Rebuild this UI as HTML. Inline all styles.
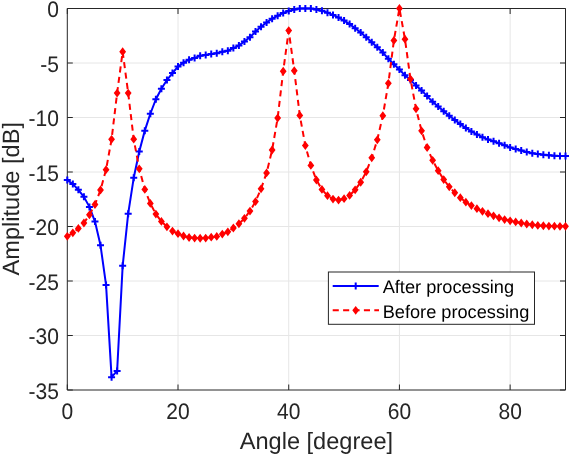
<!DOCTYPE html>
<html><head><meta charset="utf-8"><style>
html,body{margin:0;padding:0;background:#fff;width:570px;height:456px;overflow:hidden}
svg{display:block;font-family:"Liberation Sans",sans-serif;will-change:transform;text-rendering:geometricPrecision}
</style></head><body>
<svg width="570" height="456" viewBox="0 0 570 456">
<rect x="0" y="0" width="570" height="456" fill="#fff"/>
<path d="M178.01 8.50V390.00M288.72 8.50V390.00M399.43 8.50V390.00M510.14 8.50V390.00M67.30 63.00H565.50M67.30 117.50H565.50M67.30 172.00H565.50M67.30 226.50H565.50M67.30 281.00H565.50M67.30 335.50H565.50" stroke="#e6e6e6" stroke-width="1" fill="none"/>
<path d="M67.30 8.50H565.50V390.00H67.30Z" stroke="#262626" stroke-width="1" fill="none"/>
<path d="M67.30 390.00v-5.5M67.30 8.50v5.5M178.01 390.00v-5.5M178.01 8.50v5.5M288.72 390.00v-5.5M288.72 8.50v5.5M399.43 390.00v-5.5M399.43 8.50v5.5M510.14 390.00v-5.5M510.14 8.50v5.5M67.30 8.50h5.5M565.50 8.50h-5.5M67.30 63.00h5.5M565.50 63.00h-5.5M67.30 117.50h5.5M565.50 117.50h-5.5M67.30 172.00h5.5M565.50 172.00h-5.5M67.30 226.50h5.5M565.50 226.50h-5.5M67.30 281.00h5.5M565.50 281.00h-5.5M67.30 335.50h5.5M565.50 335.50h-5.5M67.30 390.00h5.5M565.50 390.00h-5.5" stroke="#262626" stroke-width="1" fill="none"/>
<text transform="translate(67.30 419.20) scale(1 1.07)" font-family="Liberation Sans, sans-serif" font-size="21.0" fill="#262626" text-anchor="middle">0</text>
<text transform="translate(178.01 419.20) scale(1 1.07)" font-family="Liberation Sans, sans-serif" font-size="21.0" fill="#262626" text-anchor="middle">20</text>
<text transform="translate(288.72 419.20) scale(1 1.07)" font-family="Liberation Sans, sans-serif" font-size="21.0" fill="#262626" text-anchor="middle">40</text>
<text transform="translate(399.43 419.20) scale(1 1.07)" font-family="Liberation Sans, sans-serif" font-size="21.0" fill="#262626" text-anchor="middle">60</text>
<text transform="translate(510.14 419.20) scale(1 1.07)" font-family="Liberation Sans, sans-serif" font-size="21.0" fill="#262626" text-anchor="middle">80</text>
<text transform="translate(58.90 17.20) scale(1 1.07)" font-family="Liberation Sans, sans-serif" font-size="21.0" fill="#262626" text-anchor="end">0</text>
<text transform="translate(58.90 71.70) scale(1 1.07)" font-family="Liberation Sans, sans-serif" font-size="21.0" fill="#262626" text-anchor="end">-5</text>
<text transform="translate(58.90 126.20) scale(1 1.07)" font-family="Liberation Sans, sans-serif" font-size="21.0" fill="#262626" text-anchor="end">-10</text>
<text transform="translate(58.90 180.70) scale(1 1.07)" font-family="Liberation Sans, sans-serif" font-size="21.0" fill="#262626" text-anchor="end">-15</text>
<text transform="translate(58.90 235.20) scale(1 1.07)" font-family="Liberation Sans, sans-serif" font-size="21.0" fill="#262626" text-anchor="end">-20</text>
<text transform="translate(58.90 289.70) scale(1 1.07)" font-family="Liberation Sans, sans-serif" font-size="21.0" fill="#262626" text-anchor="end">-25</text>
<text transform="translate(58.90 344.20) scale(1 1.07)" font-family="Liberation Sans, sans-serif" font-size="21.0" fill="#262626" text-anchor="end">-30</text>
<text transform="translate(58.90 398.70) scale(1 1.07)" font-family="Liberation Sans, sans-serif" font-size="21.0" fill="#262626" text-anchor="end">-35</text>
<text x="316.40" y="448.8" font-family="Liberation Sans, sans-serif" font-size="23.6" fill="#262626" text-anchor="middle">Angle [degree]</text>
<text transform="translate(18.6 198.75) rotate(-90)" x="0" y="0" font-family="Liberation Sans, sans-serif" font-size="23.6" fill="#262626" text-anchor="middle">Amplitude [dB]</text>
<polyline points="67.30,179.98 72.84,184.12 78.37,189.79 83.91,196.87 89.44,206.89 94.98,221.60 100.51,245.34 106.05,284.89 111.58,377.16 117.12,370.95 122.66,265.83 128.19,213.64 133.73,177.80 139.26,151.55 144.80,130.63 150.33,113.74 155.87,99.26 161.40,88.80 166.94,80.08 172.48,73.00 178.01,66.57 183.55,62.65 189.08,59.71 194.62,58.08 200.15,55.79 205.69,54.92 211.22,54.05 216.76,53.28 222.30,51.76 227.83,50.67 233.37,48.05 238.90,45.55 244.44,41.41 249.97,37.27 255.51,31.60 261.04,26.81 266.58,22.45 272.12,18.64 277.65,15.81 283.19,12.98 288.72,11.01 294.26,9.49 299.79,8.62 305.33,8.40 310.86,8.62 316.40,9.49 321.94,10.69 327.47,12.65 333.01,14.94 338.54,17.55 344.08,20.60 349.61,24.09 355.15,28.28 360.68,32.53 366.22,37.31 371.76,42.21 377.29,47.35 382.83,52.58 388.36,58.76 393.90,64.32 399.43,69.56 404.97,75.32 410.50,80.03 416.04,85.39 421.58,90.41 427.11,96.10 432.65,101.87 438.18,106.45 443.72,111.35 449.25,115.71 454.79,119.95 460.32,124.09 465.86,128.02 471.40,131.39 476.93,134.44 482.47,137.17 488.00,139.45 493.54,141.31 499.07,143.16 504.61,145.23 510.14,147.41 515.68,149.04 521.22,150.57 526.75,151.98 532.29,153.29 537.82,154.05 543.36,154.82 548.89,155.36 554.43,155.80 559.96,155.90 565.50,155.90" stroke="#0000ff" stroke-width="2" fill="none" stroke-linejoin="round"/>
<path d="M63.80 179.98h7.0M67.30 176.48v7.0M69.34 184.12h7.0M72.84 180.62v7.0M74.87 189.79h7.0M78.37 186.29v7.0M80.41 196.87h7.0M83.91 193.37v7.0M85.94 206.89h7.0M89.44 203.39v7.0M91.48 221.60h7.0M94.98 218.10v7.0M97.01 245.34h7.0M100.51 241.84v7.0M102.55 284.89h7.0M106.05 281.39v7.0M108.08 377.16h7.0M111.58 373.66v7.0M113.62 370.95h7.0M117.12 367.45v7.0M119.16 265.83h7.0M122.66 262.33v7.0M124.69 213.64h7.0M128.19 210.14v7.0M130.23 177.80h7.0M133.73 174.30v7.0M135.76 151.55h7.0M139.26 148.05v7.0M141.30 130.63h7.0M144.80 127.13v7.0M146.83 113.74h7.0M150.33 110.24v7.0M152.37 99.26h7.0M155.87 95.76v7.0M157.90 88.80h7.0M161.40 85.30v7.0M163.44 80.08h7.0M166.94 76.58v7.0M168.98 73.00h7.0M172.48 69.50v7.0M174.51 66.57h7.0M178.01 63.07v7.0M180.05 62.65h7.0M183.55 59.15v7.0M185.58 59.71h7.0M189.08 56.21v7.0M191.12 58.08h7.0M194.62 54.58v7.0M196.65 55.79h7.0M200.15 52.29v7.0M202.19 54.92h7.0M205.69 51.42v7.0M207.72 54.05h7.0M211.22 50.55v7.0M213.26 53.28h7.0M216.76 49.78v7.0M218.80 51.76h7.0M222.30 48.26v7.0M224.33 50.67h7.0M227.83 47.17v7.0M229.87 48.05h7.0M233.37 44.55v7.0M235.40 45.55h7.0M238.90 42.05v7.0M240.94 41.41h7.0M244.44 37.91v7.0M246.47 37.27h7.0M249.97 33.77v7.0M252.01 31.60h7.0M255.51 28.10v7.0M257.54 26.81h7.0M261.04 23.31v7.0M263.08 22.45h7.0M266.58 18.95v7.0M268.62 18.64h7.0M272.12 15.14v7.0M274.15 15.81h7.0M277.65 12.31v7.0M279.69 12.98h7.0M283.19 9.48v7.0M285.22 11.01h7.0M288.72 7.51v7.0M290.76 9.49h7.0M294.26 5.99v7.0M296.29 8.62h7.0M299.79 5.12v7.0M301.83 8.40h7.0M305.33 4.90v7.0M307.36 8.62h7.0M310.86 5.12v7.0M312.90 9.49h7.0M316.40 5.99v7.0M318.44 10.69h7.0M321.94 7.19v7.0M323.97 12.65h7.0M327.47 9.15v7.0M329.51 14.94h7.0M333.01 11.44v7.0M335.04 17.55h7.0M338.54 14.05v7.0M340.58 20.60h7.0M344.08 17.10v7.0M346.11 24.09h7.0M349.61 20.59v7.0M351.65 28.28h7.0M355.15 24.78v7.0M357.18 32.53h7.0M360.68 29.03v7.0M362.72 37.31h7.0M366.22 33.81v7.0M368.26 42.21h7.0M371.76 38.71v7.0M373.79 47.35h7.0M377.29 43.85v7.0M379.33 52.58h7.0M382.83 49.08v7.0M384.86 58.76h7.0M388.36 55.26v7.0M390.40 64.32h7.0M393.90 60.82v7.0M395.93 69.56h7.0M399.43 66.06v7.0M401.47 75.32h7.0M404.97 71.82v7.0M407.00 80.03h7.0M410.50 76.53v7.0M412.54 85.39h7.0M416.04 81.89v7.0M418.08 90.41h7.0M421.58 86.91v7.0M423.61 96.10h7.0M427.11 92.60v7.0M429.15 101.87h7.0M432.65 98.37v7.0M434.68 106.45h7.0M438.18 102.95v7.0M440.22 111.35h7.0M443.72 107.85v7.0M445.75 115.71h7.0M449.25 112.21v7.0M451.29 119.95h7.0M454.79 116.45v7.0M456.82 124.09h7.0M460.32 120.59v7.0M462.36 128.02h7.0M465.86 124.52v7.0M467.90 131.39h7.0M471.40 127.89v7.0M473.43 134.44h7.0M476.93 130.94v7.0M478.97 137.17h7.0M482.47 133.67v7.0M484.50 139.45h7.0M488.00 135.95v7.0M490.04 141.31h7.0M493.54 137.81v7.0M495.57 143.16h7.0M499.07 139.66v7.0M501.11 145.23h7.0M504.61 141.73v7.0M506.64 147.41h7.0M510.14 143.91v7.0M512.18 149.04h7.0M515.68 145.54v7.0M517.72 150.57h7.0M521.22 147.07v7.0M523.25 151.98h7.0M526.75 148.48v7.0M528.79 153.29h7.0M532.29 149.79v7.0M534.32 154.05h7.0M537.82 150.55v7.0M539.86 154.82h7.0M543.36 151.32v7.0M545.39 155.36h7.0M548.89 151.86v7.0M550.93 155.80h7.0M554.43 152.30v7.0M556.46 155.90h7.0M559.96 152.40v7.0M562.00 155.90h7.0M565.50 152.40v7.0" stroke="#0000ff" stroke-width="2" fill="none"/>
<polyline points="67.30,236.30 72.84,232.82 78.37,228.46 83.91,223.01 89.44,214.84 94.98,204.49 100.51,190.00 106.05,169.63 111.58,139.35 117.12,93.05 122.66,51.76 128.19,93.05 133.73,139.13 139.26,168.87 144.80,189.46 150.33,203.40 155.87,214.08 161.40,221.38 166.94,226.82 172.48,231.07 178.01,233.69 183.55,235.98 189.08,237.50 194.62,238.05 200.15,238.26 205.69,238.05 211.22,237.17 216.76,236.41 222.30,234.12 227.83,231.84 233.37,228.02 238.90,223.77 244.44,218.33 249.97,211.03 255.51,201.55 261.04,188.80 266.58,172.90 272.12,150.02 277.65,117.99 283.19,71.26 288.72,30.62 294.26,70.71 299.79,115.38 305.33,145.56 310.86,165.38 316.40,179.98 321.94,189.46 327.47,195.67 333.01,199.05 338.54,200.03 344.08,198.72 349.61,195.45 355.15,189.79 360.68,182.27 366.22,171.81 371.76,157.87 377.29,139.78 382.83,115.71 388.36,83.35 393.90,40.40 399.43,8.40 404.97,39.20 410.50,79.10 416.04,108.84 421.58,130.85 427.11,147.52 432.65,160.37 438.18,170.72 443.72,179.54 449.25,186.84 454.79,192.73 460.32,197.63 465.86,202.20 471.40,205.58 476.93,208.63 482.47,211.36 488.00,213.64 493.54,215.82 499.07,217.78 504.61,219.53 510.14,220.83 515.68,221.92 521.22,223.01 526.75,223.99 532.29,224.75 537.82,225.41 543.36,225.74 548.89,226.06 554.43,226.17 559.96,226.28 565.50,226.28" stroke="#ff0000" stroke-width="2" fill="none" stroke-dasharray="6.1 4.38" stroke-dashoffset="0.43" stroke-linejoin="round"/>
<path d="M67.30 231.90L70.70 236.30L67.30 240.70L63.90 236.30ZM72.84 228.42L76.24 232.82L72.84 237.22L69.44 232.82ZM78.37 224.06L81.77 228.46L78.37 232.86L74.97 228.46ZM83.91 218.61L87.31 223.01L83.91 227.41L80.51 223.01ZM89.44 210.44L92.84 214.84L89.44 219.24L86.04 214.84ZM94.98 200.09L98.38 204.49L94.98 208.89L91.58 204.49ZM100.51 185.60L103.91 190.00L100.51 194.40L97.11 190.00ZM106.05 165.23L109.45 169.63L106.05 174.03L102.65 169.63ZM111.58 134.95L114.98 139.35L111.58 143.75L108.18 139.35ZM117.12 88.65L120.52 93.05L117.12 97.45L113.72 93.05ZM122.66 47.36L126.06 51.76L122.66 56.16L119.26 51.76ZM128.19 88.65L131.59 93.05L128.19 97.45L124.79 93.05ZM133.73 134.73L137.13 139.13L133.73 143.53L130.33 139.13ZM139.26 164.47L142.66 168.87L139.26 173.27L135.86 168.87ZM144.80 185.06L148.20 189.46L144.80 193.86L141.40 189.46ZM150.33 199.00L153.73 203.40L150.33 207.80L146.93 203.40ZM155.87 209.68L159.27 214.08L155.87 218.48L152.47 214.08ZM161.40 216.98L164.80 221.38L161.40 225.78L158.00 221.38ZM166.94 222.42L170.34 226.82L166.94 231.22L163.54 226.82ZM172.48 226.67L175.88 231.07L172.48 235.47L169.08 231.07ZM178.01 229.29L181.41 233.69L178.01 238.09L174.61 233.69ZM183.55 231.58L186.95 235.98L183.55 240.38L180.15 235.98ZM189.08 233.10L192.48 237.50L189.08 241.90L185.68 237.50ZM194.62 233.65L198.02 238.05L194.62 242.45L191.22 238.05ZM200.15 233.86L203.55 238.26L200.15 242.66L196.75 238.26ZM205.69 233.65L209.09 238.05L205.69 242.45L202.29 238.05ZM211.22 232.77L214.62 237.17L211.22 241.57L207.82 237.17ZM216.76 232.01L220.16 236.41L216.76 240.81L213.36 236.41ZM222.30 229.72L225.70 234.12L222.30 238.52L218.90 234.12ZM227.83 227.44L231.23 231.84L227.83 236.24L224.43 231.84ZM233.37 223.62L236.77 228.02L233.37 232.42L229.97 228.02ZM238.90 219.37L242.30 223.77L238.90 228.17L235.50 223.77ZM244.44 213.93L247.84 218.33L244.44 222.73L241.04 218.33ZM249.97 206.63L253.37 211.03L249.97 215.43L246.57 211.03ZM255.51 197.15L258.91 201.55L255.51 205.95L252.11 201.55ZM261.04 184.40L264.44 188.80L261.04 193.20L257.64 188.80ZM266.58 168.50L269.98 172.90L266.58 177.30L263.18 172.90ZM272.12 145.62L275.52 150.02L272.12 154.42L268.72 150.02ZM277.65 113.59L281.05 117.99L277.65 122.39L274.25 117.99ZM283.19 66.86L286.59 71.26L283.19 75.66L279.79 71.26ZM288.72 26.22L292.12 30.62L288.72 35.02L285.32 30.62ZM294.26 66.31L297.66 70.71L294.26 75.11L290.86 70.71ZM299.79 110.98L303.19 115.38L299.79 119.78L296.39 115.38ZM305.33 141.16L308.73 145.56L305.33 149.96L301.93 145.56ZM310.86 160.98L314.26 165.38L310.86 169.78L307.46 165.38ZM316.40 175.58L319.80 179.98L316.40 184.38L313.00 179.98ZM321.94 185.06L325.34 189.46L321.94 193.86L318.54 189.46ZM327.47 191.27L330.87 195.67L327.47 200.07L324.07 195.67ZM333.01 194.65L336.41 199.05L333.01 203.45L329.61 199.05ZM338.54 195.63L341.94 200.03L338.54 204.43L335.14 200.03ZM344.08 194.32L347.48 198.72L344.08 203.12L340.68 198.72ZM349.61 191.05L353.01 195.45L349.61 199.85L346.21 195.45ZM355.15 185.39L358.55 189.79L355.15 194.19L351.75 189.79ZM360.68 177.87L364.08 182.27L360.68 186.67L357.28 182.27ZM366.22 167.41L369.62 171.81L366.22 176.21L362.82 171.81ZM371.76 153.47L375.16 157.87L371.76 162.27L368.36 157.87ZM377.29 135.38L380.69 139.78L377.29 144.18L373.89 139.78ZM382.83 111.31L386.23 115.71L382.83 120.11L379.43 115.71ZM388.36 78.95L391.76 83.35L388.36 87.75L384.96 83.35ZM393.90 36.00L397.30 40.40L393.90 44.80L390.50 40.40ZM399.43 4.00L402.83 8.40L399.43 12.80L396.03 8.40ZM404.97 34.80L408.37 39.20L404.97 43.60L401.57 39.20ZM410.50 74.70L413.90 79.10L410.50 83.50L407.10 79.10ZM416.04 104.44L419.44 108.84L416.04 113.24L412.64 108.84ZM421.58 126.45L424.98 130.85L421.58 135.25L418.18 130.85ZM427.11 143.12L430.51 147.52L427.11 151.92L423.71 147.52ZM432.65 155.97L436.05 160.37L432.65 164.77L429.25 160.37ZM438.18 166.32L441.58 170.72L438.18 175.12L434.78 170.72ZM443.72 175.14L447.12 179.54L443.72 183.94L440.32 179.54ZM449.25 182.44L452.65 186.84L449.25 191.24L445.85 186.84ZM454.79 188.33L458.19 192.73L454.79 197.13L451.39 192.73ZM460.32 193.23L463.72 197.63L460.32 202.03L456.92 197.63ZM465.86 197.80L469.26 202.20L465.86 206.60L462.46 202.20ZM471.40 201.18L474.80 205.58L471.40 209.98L468.00 205.58ZM476.93 204.23L480.33 208.63L476.93 213.03L473.53 208.63ZM482.47 206.96L485.87 211.36L482.47 215.76L479.07 211.36ZM488.00 209.24L491.40 213.64L488.00 218.04L484.60 213.64ZM493.54 211.42L496.94 215.82L493.54 220.22L490.14 215.82ZM499.07 213.38L502.47 217.78L499.07 222.18L495.67 217.78ZM504.61 215.13L508.01 219.53L504.61 223.93L501.21 219.53ZM510.14 216.43L513.54 220.83L510.14 225.23L506.74 220.83ZM515.68 217.52L519.08 221.92L515.68 226.32L512.28 221.92ZM521.22 218.61L524.62 223.01L521.22 227.41L517.82 223.01ZM526.75 219.59L530.15 223.99L526.75 228.39L523.35 223.99ZM532.29 220.35L535.69 224.75L532.29 229.15L528.89 224.75ZM537.82 221.01L541.22 225.41L537.82 229.81L534.42 225.41ZM543.36 221.34L546.76 225.74L543.36 230.14L539.96 225.74ZM548.89 221.66L552.29 226.06L548.89 230.46L545.49 226.06ZM554.43 221.77L557.83 226.17L554.43 230.57L551.03 226.17ZM559.96 221.88L563.36 226.28L559.96 230.68L556.56 226.28ZM565.50 221.88L568.90 226.28L565.50 230.68L562.10 226.28Z" fill="#ff0000"/>
<rect x="328.4" y="272" width="206.10000000000002" height="52.30000000000001" fill="#fff" stroke="#262626" stroke-width="1"/>
<path d="M332.7 286.1H378.7" stroke="#0000ff" stroke-width="2"/>
<path d="M352.2 286.1h7.0M355.7 282.6v7.0" stroke="#0000ff" stroke-width="2"/>
<path d="M332.7 310.3H379" stroke="#ff0000" stroke-width="2" stroke-dasharray="6.1 4.3"/>
<path d="M355.7 305.90000000000003L359.09999999999997 310.3L355.7 314.7L352.3 310.3Z" fill="#ff0000"/>
<text x="382.7" y="293" font-family="Liberation Sans, sans-serif" font-size="18.2" fill="#000">After processing</text>
<text x="382.7" y="317.7" font-family="Liberation Sans, sans-serif" font-size="18.2" fill="#000">Before processing</text>
</svg>
</body></html>
